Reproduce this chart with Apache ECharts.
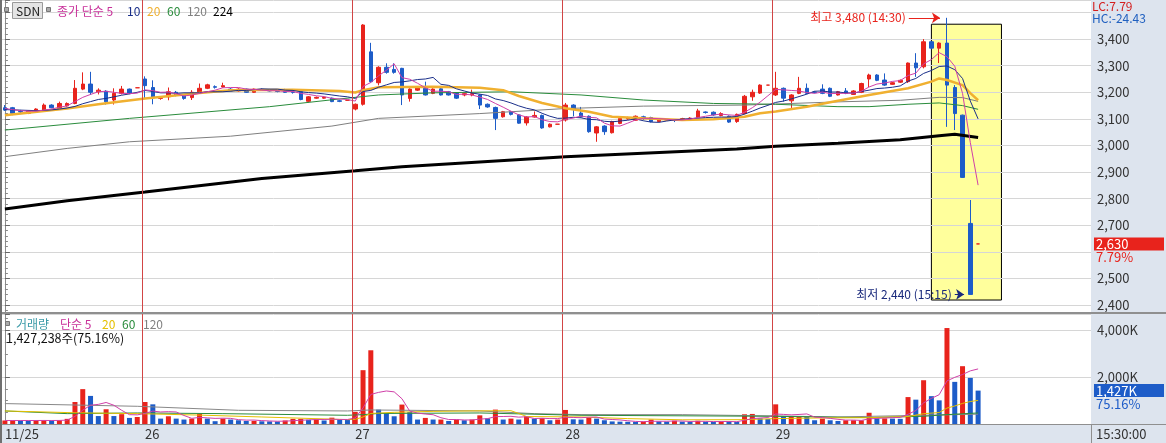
<!DOCTYPE html>
<html><head><meta charset="utf-8">
<script src="https://cdn.jsdelivr.net/npm/echarts@6.0.0/dist/echarts.min.js"></script>
<style>html,body{margin:0;padding:0;background:#fff}#c{width:1166px;height:443px}</style>
</head><body><div id="c"></div>
<script>
// ---------------- data ----------------
const dayLabels = ['11/25','26','27','28','29'];
const firstSlot = [9,0,0,0,0];          // first 15-minute slot shown for each day (slot 0 = 09:00)
const SLOTS_PER_DAY = 27;               // 09:00 ... 15:30
const PAD_SLOTS = 14;                   // empty slots to the right of the last bar

const openP = [3142,3142,3128,3121,3127,3133,3152,3139,3149,3158,3212,3231,3202,3204,3171,3196,3212,3217,
 3250,3218,3177,3183,3200,3190,3180,3200,3215,3221,3220,3212,3205,3212,3200,3211,3210,3208,3210,3201,3202,3166,3178,3178,3178,3168,3170,
 3137,3155,3352,3236,3294,3286,3290,3177,3208,3218,3196,3213,3202,3197,3190,3190,3190,3155,3143,3108,3127,3115,3085,3107,3113,3070,3080,
 3096,3152,3122,3110,3047,3073,3048,3083,3100,3095,3108,3105,3090,3096,3096,3099,3098,3105,3126,3125,3113,3110,3090,3120,3183,3197,3227,
 3190,3215,3168,3196,3215,3201,3212,3215,3190,3205,3192,3200,3250,3265,3246,3230,3238,3240,3310,3296,3390,3366,3385,3218,3114,2707,2630];
const closeP = [3133,3121,3126,3129,3137,3152,3142,3158,3158,3215,3231,3200,3208,3164,3196,3212,3196,3217,
 3225,3179,3183,3202,3188,3177,3200,3215,3228,3219,3225,3205,3212,3200,3212,3209,3205,3203,3200,3200,3173,3183,3181,3181,3165,3166,3170,
 3155,3453,3240,3294,3275,3275,3190,3212,3218,3190,3212,3190,3190,3178,3195,3195,3152,3145,3102,3127,3117,3084,3107,3113,3066,3080,3080,
 3152,3137,3107,3052,3070,3052,3090,3102,3105,3110,3102,3090,3097,3098,3094,3101,3103,3130,3124,3115,3120,3088,3117,3185,3200,3227,3227,
 3215,3178,3190,3215,3196,3199,3196,3185,3202,3196,3205,3233,3265,3245,3227,3236,3245,3310,3292,3390,3366,3385,3227,3120,2880,2440,2630];
const lowP = [3130,3114,3118,3118,3125,3130,3140,3135,3146,3155,3208,3190,3192,3154,3154,3192,3193,3217,
 3177,3155,3172,3170,3185,3172,3171,3198,3212,3214,3218,3203,3202,3198,3198,3206,3203,3200,3198,3195,3170,3162,3176,3176,3163,3163,3170,
 3132,3150,3236,3226,3270,3270,3152,3165,3205,3188,3193,3188,3188,3175,3185,3185,3137,3142,3058,3105,3113,3082,3075,3105,3063,3068,3080,
 3090,3110,3105,3048,3014,3040,3045,3080,3097,3093,3095,3087,3088,3094,3088,3097,3096,3103,3120,3112,3110,3085,3085,3117,3168,3194,3227,
 3186,3165,3140,3193,3193,3196,3193,3182,3188,3193,3190,3197,3220,3242,3224,3228,3235,3235,3258,3290,3362,3310,3070,3058,2878,2440,2630];
const highP = [3152,3145,3134,3132,3140,3158,3155,3165,3162,3246,3275,3277,3215,3208,3215,3224,3214,3217,
 3260,3245,3186,3218,3205,3192,3208,3233,3232,3226,3236,3216,3215,3214,3214,3215,3213,3211,3213,3205,3205,3186,3184,3183,3180,3172,3170,
 3158,3456,3386,3298,3309,3309,3292,3215,3222,3240,3215,3216,3205,3200,3198,3210,3193,3158,3146,3130,3130,3118,3110,3128,3116,3083,3080,
 3160,3155,3145,3113,3073,3076,3093,3105,3108,3113,3112,3108,3099,3100,3099,3104,3106,3138,3128,3128,3125,3113,3120,3190,3210,3230,3227,
 3277,3218,3193,3258,3233,3204,3230,3218,3205,3216,3208,3236,3270,3268,3271,3239,3248,3312,3347,3400,3393,3388,3480,3227,3116,2795,2630];

// volume in thousands of shares
const volume = [150,155,150,145,150,155,150,160,220,940,1490,1200,340,630,340,420,260,300,
 940,840,230,330,230,190,230,430,230,120,230,190,160,130,130,115,110,105,150,220,220,180,200,150,270,180,170,
 520,2300,3150,615,470,330,830,515,190,260,190,190,130,190,160,190,370,240,615,190,230,190,330,230,250,160,190,
 600,200,190,270,230,160,110,100,95,90,100,190,110,100,140,100,90,140,100,90,110,100,90,415,430,240,210,
 840,330,330,330,320,160,230,160,130,160,160,160,480,240,240,230,220,1150,1040,1870,1190,1010,4100,1800,2470,1970,1427];

// price moving averages
const ma5 = [3139,3135,3131,3129,3129,3133,3137,3144,3149,3165,3181,3192,3202,3204,3200,3196,3195,3197,
 3209,3206,3200,3201,3195,3186,3190,3196,3202,3208,3217,3218,3218,3212,3211,3208,3206,3206,3203,3203,3196,3192,3187,3184,3177,3175,3173,
 3167,3222,3237,3262,3283,3307,3255,3249,3234,3217,3204,3204,3202,3192,3193,3190,3182,3173,3158,3144,3129,3115,3107,3109,3097,3090,3089,
 3098,3103,3111,3106,3104,3084,3074,3073,3084,3096,3102,3102,3101,3099,3096,3096,3099,3105,3110,3115,3118,3115,3113,3125,3142,3163,3187,
 3211,3209,3207,3205,3199,3196,3201,3195,3196,3196,3197,3204,3220,3231,3235,3241,3244,3263,3272,3307,3323,3349,3334,3298,3196,3011,2851];
const ma10 = [3135,3134,3133,3132,3131,3132,3134,3137,3141,3147,3157,3165,3173,3177,3183,3189,3194,3200,
 3207,3203,3198,3198,3196,3198,3198,3198,3202,3202,3202,3204,3207,3207,3210,3213,3212,3212,3208,3207,3202,3199,3197,3194,3190,3186,3183,
 3177,3203,3207,3219,3228,3237,3239,3243,3248,3250,3256,3230,3226,3213,3205,3197,3193,3188,3175,3169,3160,3149,3140,3134,3121,3110,3102,
 3103,3106,3104,3098,3097,3091,3089,3092,3095,3100,3093,3088,3087,3092,3096,3099,3101,3103,3105,3106,3107,3107,3109,3118,3129,3141,3151,
 3162,3167,3175,3184,3193,3204,3205,3201,3201,3198,3197,3203,3208,3214,3216,3219,3224,3242,3252,3271,3282,3297,3299,3285,3252,3167,3100];
const ma20Idx = [0,8,12,18,25,29,37,43,45,46,48,55,61,64,66,69,72,75,78,82,87,91,95,97,99,103,107,111,116,119,120,121,123,124,125];
const ma20Val = [3114,3139,3155,3177,3197,3208,3210,3205,3199,3208,3219,3221,3217,3208,3186,3160,3140,3127,3108,3102,3096,3099,3108,3121,3128,3146,3168,3190,3215,3240,3252,3246,3227,3197,3170];
const ma60Idx = [0,16,34,43,48,55,65,74,82,91,99,107,111,116,120,123,125];
const ma60Val = [3058,3102,3146,3175,3190,3198,3202,3190,3171,3158,3155,3146,3146,3155,3160,3150,3136];
const ma120Idx = [0,8,16,29,42,48,61,72,82,95,99,107,115,120,123,125];
const ma120Val = [2958,2989,3014,3035,3073,3102,3120,3139,3148,3152,3156,3164,3170,3181,3180,3166];
const ma224Idx = [0,8,18,33,45,51,72,94,99,107,115,120,122,125];
const ma224Val = [2761,2792,2825,2876,2905,2920,2958,2987,2997,3008,3022,3037,3042,3030];

// volume moving averages (thousands)
const vma5 = [150,150,150,150,150,151,150,152,167,325,592,802,838,920,800,586,398,390,
 452,552,514,528,514,364,242,282,262,240,248,240,186,166,168,145,129,118,122,140,161,175,194,194,204,196,194,
 258,688,1264,1351,1411,1373,1079,552,467,425,397,269,192,192,172,172,208,230,315,321,329,293,311,234,246,232,232,
 286,280,268,290,298,210,192,174,139,111,99,115,117,118,128,128,108,114,114,104,106,108,98,161,229,255,277,
 427,410,390,408,430,294,274,240,200,168,168,154,218,240,256,270,282,416,576,902,1094,1252,1842,1994,2114,2270,2353];
const vma20Idx = [0,9,17,25,33,44,45,46,47,50,55,60,65,66,67,74,80,87,95,99,105,111,116,118,120,121,122,123,124,125];
const vma20Val = [557,480,443,380,300,186,200,300,450,500,540,560,568,450,320,300,230,180,185,230,260,270,320,440,490,680,770,880,960,1010];
const vma60Idx = [0,8,17,28,44,46,48,61,74,99,111,118,121,125];
const vma60Val = [557,443,472,443,372,400,450,472,372,329,272,330,400,472];
const vma120Idx = [0,17,30,44,47,61,68,74,87,99,107,125];
const vma120Val = [872,757,585,557,600,557,443,400,400,344,300,420];

// annotation box (yellow) around the sell-off
const boxFromIdx = 119, boxToIdx = 128, boxTop = 3456, boxBottom = 2419;
const lastVolShares = 1427238;
const volPct = '75.16';

// ---------------- derived ----------------
const RED = '#e8231c', BLUE = '#1d5cc8', PANEL = '#dde4ee';
const FONT = '"Noto Sans CJK KR","Noto Sans",sans-serif';
const fmt = v => Math.round(v).toLocaleString('en-US');

const categories = [], dayStart = [];
dayLabels.forEach((d, di) => {
  dayStart.push(categories.length);
  for (let s = firstSlot[di]; s < SLOTS_PER_DAY; s++) {
    const m = 9 * 60 + 15 * s;
    categories.push(d + ' ' + String(Math.floor(m / 60)).padStart(2, '0') + ':' + String(m % 60).padStart(2, '0'));
  }
});
const nData = categories.length;
for (let i = 0; i < PAD_SLOTS; i++) categories.push('pad' + i);
const N = categories.length;

const highVal = Math.max(...highP), highIdx = highP.indexOf(highVal);
const lowVal = Math.min(...lowP), lowIdx = lowP.indexOf(lowVal);
const lastClose = closeP[nData - 1];
const lcPct = ((lastClose - lowVal) / lowVal * 100).toFixed(2);
const hcPct = ((lastClose - highVal) / highVal * 100).toFixed(2);
const timeOf = i => categories[i].split(' ')[1];

const candles = openP.map((o, i) => {
  const item = { value: [o, closeP[i], lowP[i], highP[i]] };
  if (o === closeP[i]) {
    const c = (i === 0 || closeP[i] >= closeP[i - 1]) ? RED : BLUE;
    item.itemStyle = { color: c, color0: c, borderColor: c, borderColor0: c, borderColorDoji: c };
  }
  return item;
});
const volBars = volume.map((v, i) => ({ value: v, itemStyle: { color: (i === 0 || v >= volume[i - 1]) ? RED : BLUE } }));

const pairs = (idx, val) => idx.map((x, k) => [x, val[k]]);
const full = arr => arr.map((v, i) => [i, v]);
function maLine(data, color, width, xi, yi, z) {
  return { type: 'line', xAxisIndex: xi, yAxisIndex: yi, data, showSymbol: false, symbol: 'none', silent: true,
    z: z || 4, lineStyle: { color, width }, animation: false };
}
const dayLineData = dayStart.slice(1).map(d => ({ xAxis: d - 0.4 }));
const dayLineStyle = { color: '#d24545', width: 1, type: 'solid' };

const priceLabelFmt = '{e| }\n{b|' + fmt(lastClose) + '}\n{p|' + lcPct + '%}';
const volLabelFmt = '{e| }\n{b|' + fmt(lastVolShares / 1000) + 'K}\n{p|' + volPct + '%}';
const richFor = (col) => ({
  e: { height: 13, lineHeight: 13, fontSize: 12 },
  b: { backgroundColor: col, color: '#fff', width: 68, height: 13, lineHeight: 13, padding: [0, 0, 0, 2], fontSize: 13, fontFamily: FONT },
  p: { color: col, height: 13, lineHeight: 13, padding: [0, 0, 0, 2], fontSize: 13, fontFamily: FONT }
});
function valueTag(xi, yi, val, text, col) {
  return { type: 'line', xAxisIndex: xi, yAxisIndex: yi, data: [], z: 8, silent: true, clip: false,
    markLine: { silent: true, symbol: 'none', lineStyle: { color: 'rgba(0,0,0,0)', width: 1, opacity: 1 },
      label: { show: true, position: 'end', distance: 3, opacity: 1, formatter: text, rich: richFor(col) },
      data: [{ yAxis: val }] } };
}

const chart = echarts.init(document.getElementById('c'), null, { width: 1166, height: 443, renderer: 'canvas' });
const option = {
  animation: false,
  backgroundColor: '#ffffff',
  textStyle: { fontFamily: FONT },
  grid: [
    { left: 1, right: 75, top: 0, height: 312 },
    { left: 1, right: 75, top: 314, height: 110 }
  ],
  xAxis: [
    { type: 'category', gridIndex: 0, data: categories, boundaryGap: true,
      axisLine: { show: false }, axisTick: { show: false }, axisLabel: { show: false }, splitLine: { show: false } },
    { type: 'category', gridIndex: 1, data: categories, boundaryGap: true,
      axisLine: { show: false }, axisTick: { show: false }, splitLine: { show: false },
      axisLabel: { show: true, interval: (i) => dayStart.includes(i), formatter: v => v.split(' ')[0],
        align: 'left', margin: 4, color: '#333', fontSize: 13, fontFamily: FONT } },
    { type: 'value', gridIndex: 0, min: -0.5, max: N - 0.5, show: false },
    { type: 'value', gridIndex: 1, min: -0.5, max: N - 0.5, show: false }
  ],
  yAxis: [
    { type: 'value', gridIndex: 0, position: 'right', min: 2374, max: 3547, splitNumber: 11, z: 2,
      axisLine: { show: true, lineStyle: { color: '#8c8c8c' } },
      axisTick: { show: true, length: 5, lineStyle: { color: '#666' } },
      minorTick: { show: true, splitNumber: 5, length: 3, lineStyle: { color: '#888' } },
      splitLine: { show: true, lineStyle: { color: '#d6d6d6' } },
      axisLabel: { show: true, margin: 6, color: '#333', fontSize: 13, fontFamily: FONT, showMinLabel: false, showMaxLabel: false,
        formatter: v => (v > 3450 || Math.abs(v - lastClose) < 50) ? '' : fmt(v) } },
    { type: 'value', gridIndex: 1, position: 'right', min: 0, max: 4700, splitNumber: 2, z: 2,
      axisLine: { show: true, lineStyle: { color: '#8c8c8c' } },
      axisTick: { show: true, length: 5, lineStyle: { color: '#666' } },
      minorTick: { show: true, splitNumber: 4, length: 3, lineStyle: { color: '#888' } },
      splitLine: { show: true, lineStyle: { color: '#d6d6d6' } },
      axisLabel: { show: true, margin: 6, color: '#333', fontSize: 13, fontFamily: FONT, showMinLabel: false, showMaxLabel: false,
        formatter: v => (v === 0 || v > 4500) ? '' : fmt(v) + 'K' } }
  ],
  series: [
    // yellow highlight box + day separators (price panel)
    { type: 'line', xAxisIndex: 2, yAxisIndex: 0, data: [], z: 1, silent: true,
      markArea: { silent: true, itemStyle: { color: '#ffff9c', borderColor: '#000', borderWidth: 1 },
        data: [[{ xAxis: boxFromIdx, yAxis: boxTop }, { xAxis: boxToIdx, yAxis: boxBottom }]] },
      markLine: { silent: true, symbol: 'none', label: { show: false }, lineStyle: dayLineStyle, data: dayLineData } },
    { type: 'candlestick', xAxisIndex: 0, yAxisIndex: 0, data: candles, z: 3, barWidth: 4, silent: true,
      itemStyle: { color: RED, color0: BLUE, borderColor: RED, borderColor0: BLUE, borderWidth: 1 } },
    maLine(pairs(ma224Idx, ma224Val), '#000000', 3, 2, 0),
    maLine(pairs(ma120Idx, ma120Val), '#808080', 1, 2, 0),
    maLine(pairs(ma60Idx, ma60Val), '#2a8c3c', 1, 2, 0),
    maLine(pairs(ma20Idx, ma20Val), '#f0b030', 2.5, 2, 0),
    maLine(full(ma10), '#1a2f8a', 1, 2, 0),
    maLine(full(ma5), '#d040a8', 1, 2, 0),
    // high / low annotations
    { type: 'line', xAxisIndex: 2, yAxisIndex: 0, data: [], z: 6, silent: true,
      markLine: { silent: true, symbol: ['none', 'arrow'], symbolSize: 8,
        data: [
          [{ coord: [highIdx - 4.9, highVal], lineStyle: { color: RED, width: 1, type: 'solid' },
             label: { show: true, position: 'start', distance: 3, color: RED, fontSize: 12, fontFamily: FONT,
               formatter: '최고 ' + fmt(highVal) + ' (' + timeOf(highIdx) + ')' } },
           { coord: [highIdx - 0.9, highVal] }],
          [{ coord: [lowIdx - 2, lowVal], lineStyle: { color: '#1a2a7c', width: 1, type: 'solid' },
             label: { show: true, position: 'start', distance: 3, color: '#1a2a7c', fontSize: 12, fontFamily: FONT,
               formatter: '최저 ' + fmt(lowVal) + ' (' + timeOf(lowIdx) + ')' } },
           { coord: [lowIdx - 0.8, lowVal] }]
        ] } },
    valueTag(2, 0, lastClose, priceLabelFmt, RED),
    // volume panel
    { type: 'line', xAxisIndex: 3, yAxisIndex: 1, data: [], z: 1, silent: true,
      markLine: { silent: true, symbol: 'none', label: { show: false }, lineStyle: dayLineStyle, data: dayLineData } },
    { type: 'bar', xAxisIndex: 1, yAxisIndex: 1, data: volBars, barWidth: 5, z: 3, silent: true },
    maLine(pairs(vma120Idx, vma120Val), '#888888', 1, 3, 1),
    maLine(pairs(vma60Idx, vma60Val), '#2a8c3c', 1, 3, 1),
    maLine(pairs(vma20Idx, vma20Val), '#e5c000', 1, 3, 1),
    maLine(full(vma5), '#d040a8', 1, 3, 1),
    valueTag(3, 1, lastVolShares / 1000, volLabelFmt, BLUE)
  ],
  graphic: [
    { type: 'rect', z: -10, silent: true, shape: { x: 1091, y: 0, width: 75, height: 443 }, style: { fill: PANEL } },
    { type: 'rect', z: -10, silent: true, shape: { x: 0, y: 424, width: 1166, height: 19 }, style: { fill: PANEL } },
    { type: 'line', z: 20, silent: true, shape: { x1: 0, y1: 313, x2: 1166, y2: 313 }, style: { stroke: '#8f8f8f', lineWidth: 2 } },
    { type: 'line', z: 20, silent: true, shape: { x1: 0, y1: 424.5, x2: 1166, y2: 424.5 }, style: { stroke: '#8f8f8f', lineWidth: 1 } },
    { type: 'line', z: 20, silent: true, shape: { x1: 1091.5, y1: 424, x2: 1091.5, y2: 443 }, style: { stroke: '#8f8f8f', lineWidth: 1 } },
    { type: 'line', z: 20, silent: true, shape: { x1: 1, y1: 0, x2: 1, y2: 443 }, style: { stroke: '#707070', lineWidth: 2 } },
    // top legend
    { type: 'rect', z: 20, shape: { x: 4.5, y: 7.5, width: 4, height: 4 }, style: { fill: '#aaa', stroke: '#777' } },
    { type: 'rect', z: 20, shape: { x: 12.5, y: 2.5, width: 30, height: 16 }, style: { fill: '#e4e4e4', stroke: '#9a9a9a' } },
    { type: 'text', z: 21, x: 16, y: 11, style: { text: 'SDN', fill: '#222', fontSize: 12, fontFamily: FONT, verticalAlign: 'middle' } },
    { type: 'rect', z: 20, shape: { x: 46.5, y: 7.5, width: 4, height: 4 }, style: { fill: '#aaa', stroke: '#777' } },
    { type: 'text', z: 21, x: 57, y: 11, style: { text: '종가 단순 5', fill: '#c8309a', fontSize: 12, fontFamily: FONT, verticalAlign: 'middle' } },
    { type: 'text', z: 21, x: 127, y: 11, style: { text: '10', fill: '#1a2f8a', fontSize: 12, fontFamily: FONT, verticalAlign: 'middle' } },
    { type: 'text', z: 21, x: 147, y: 11, style: { text: '20', fill: '#f0b030', fontSize: 12, fontFamily: FONT, verticalAlign: 'middle' } },
    { type: 'text', z: 21, x: 167, y: 11, style: { text: '60', fill: '#2a8c3c', fontSize: 12, fontFamily: FONT, verticalAlign: 'middle' } },
    { type: 'text', z: 21, x: 187, y: 11, style: { text: '120', fill: '#808080', fontSize: 12, fontFamily: FONT, verticalAlign: 'middle' } },
    { type: 'text', z: 21, x: 213, y: 11, style: { text: '224', fill: '#000', fontSize: 12, fontFamily: FONT, verticalAlign: 'middle' } },
    // right panel texts
    { type: 'text', z: 21, x: 1092, y: 6, style: { text: 'LC:' + lcPct, fill: '#d42020', fontSize: 12, fontFamily: FONT, verticalAlign: 'middle' } },
    { type: 'text', z: 21, x: 1092, y: 18, style: { text: 'HC:' + hcPct, fill: '#2060c0', fontSize: 12, fontFamily: FONT, verticalAlign: 'middle' } },
    { type: 'text', z: 21, x: 1096, y: 434, style: { text: '15:30:00', fill: '#333', fontSize: 13, fontFamily: FONT, verticalAlign: 'middle' } },
    // volume legend
    { type: 'rect', z: 20, shape: { x: 5.5, y: 321.5, width: 4, height: 4 }, style: { fill: '#aaa', stroke: '#777' } },
    { type: 'text', z: 21, x: 16, y: 324, style: { text: '거래량', fill: '#3a9aa8', fontSize: 12, fontFamily: FONT, verticalAlign: 'middle' } },
    { type: 'text', z: 21, x: 60, y: 324, style: { text: '단순 5', fill: '#c8309a', fontSize: 12, fontFamily: FONT, verticalAlign: 'middle' } },
    { type: 'text', z: 21, x: 102, y: 324, style: { text: '20', fill: '#e5c000', fontSize: 12, fontFamily: FONT, verticalAlign: 'middle' } },
    { type: 'text', z: 21, x: 122, y: 324, style: { text: '60', fill: '#2a8c3c', fontSize: 12, fontFamily: FONT, verticalAlign: 'middle' } },
    { type: 'text', z: 21, x: 143, y: 324, style: { text: '120', fill: '#808080', fontSize: 12, fontFamily: FONT, verticalAlign: 'middle' } },
    { type: 'text', z: 21, x: 6, y: 338, style: { text: fmt(lastVolShares) + '주(' + volPct + '%)', fill: '#111', fontSize: 12.5, fontFamily: FONT, verticalAlign: 'middle' } }
  ]
};
chart.setOption(option);
</script>
</body></html>
